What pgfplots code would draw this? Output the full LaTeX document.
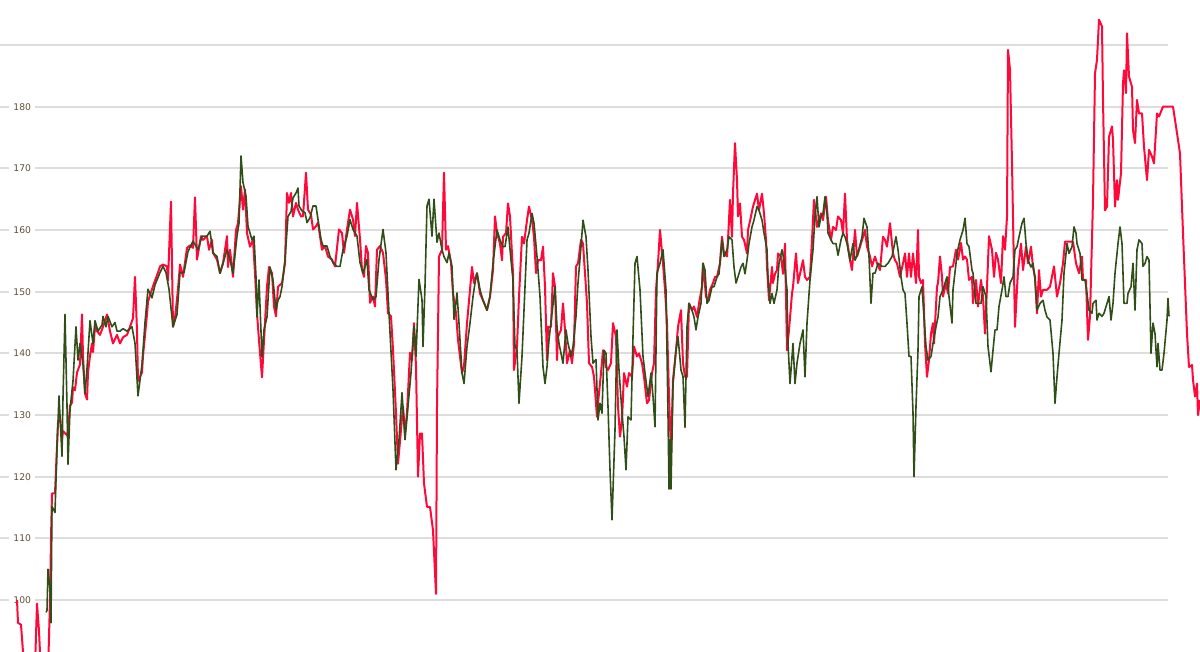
\documentclass[border=0pt]{standalone}
\usepackage{fontspec}
\setmainfont{DejaVu Sans}
\usepackage{pgfplots}
\pgfplotsset{compat=1.18}
\definecolor{redline}{RGB}{255,8,58}
\definecolor{greenline}{RGB}{48,78,24}
\definecolor{gridc}{RGB}{221,221,221}
\definecolor{labc}{RGB}{95,80,55}
\newcommand{\lbl}{\fontsize{4.6}{5}\selectfont}

\begin{document}
\begin{tikzpicture}
\begin{axis}[
  scale only axis,
  width=600pt, height=326pt,
  xmin=0, xmax=1200,
  ymin=91.57, ymax=197.3,
  axis lines=none,
  clip=true,
]
% grid lines stop short of the right edge
\pgfplotsinvokeforeach{100,110,...,190}{
  \draw[gridc,line width=1pt] (axis cs:0,#1) -- (axis cs:1168,#1);
}
\pgfplotsinvokeforeach{100,110,...,180}{
  \node[anchor=west,fill=white,inner xsep=2pt,inner ysep=0.6pt,text=labc,font=\lbl] at (axis cs:9,#1) {#1};
}

% red series
\addplot[redline,line width=1pt,line join=round] coordinates {
(17,100)(18,96.3)(21,96)(23,91.6)(26,84)(34,84)(37,99.4)(39,95)(41,88)(46,84)(48,88)(50,100)(51,110)
(52,117.3)(55,117.3)(58,128.7)(60,130)(62,126)(63,127.4)(67,126.7)(68,127.4)(70,131.5)(72,132)(73,134.5)
(75,134)(77,136.9)(80,138.2)(82,146.3)(83,139.6)(85,133.5)(87,132.5)(88,136.9)(90,139.6)(92,141.6)(93,140.2)
(95,144.3)(97,143.6)(100,143)(103,144.3)(107,146.3)(110,143.6)(113,141.6)(117,143)(120,141.6)(123,142.6)
(127,143)(130,144.3)(133,145.7)(135,152.4)(137,143.6)(138,135.5)(142,136.9)(143,139.6)(147,146.3)(148,148.4)
(152,150.4)(155,151.8)(158,153.1)(160,154.1)(163,154.4)(167,154.1)(168,151.8)(171,164.6)(173,144.3)(175,145.7)
(178,150.4)(180,154.4)(183,152.4)(187,157.1)(190,157.5)(193,157.1)(195,165.3)(197,155.2)(201,159)(203,158.4)
(207,159)(209,156.8)(212,158.4)(213,156.3)(217,155.2)(220,153)(223,154.6)(227,159)(228,154)(230,156.8)
(233,152.4)(236,160)(238,161.1)(241,167.1)(243,163.3)(245,166.6)(247,159.5)(250,157.3)(253,158.4)(255,153)
(257,146.5)(259,142.1)(262,136.1)(264,142.1)(267,150.8)(269,154)(272,153)(274,147.6)(276,146)(278,150.8)
(282,151.4)(285,154.6)(287,166)(289,164.4)(291,166)(293,162.2)(296,164.4)(298,163.3)(301,162.2)(303,162.2)
(306,169.3)(308,163.3)(311,162.5)(313,160.1)(316,160.6)(318,161.2)(322,156.8)(325,157.4)(328,155.7)(332,155.2)
(335,154.1)(339,160.1)(342,159.5)(344,156.3)(347,160.1)(350,163.3)(353,161.7)(355,159)(357,164.4)(360,158.5)
(362,153.6)(364,152.4)(366,157.4)(368,156.3)(370,148.2)(373,149.2)(375,147.6)(377,156.8)(380,157.4)(383,156.3)
(386,152)(388,146.5)(391,146)(393,140.6)(396,130.3)(398,122.1)(401,127.6)(403,131.4)(405,127)(407,130.3)
(410,140.1)(412,138.9)(414,144.9)(416,137.9)(418,120)(420,127)(422,127)(424,118.9)(427,115.1)(430,115.1)
(433,111.3)(436,101)(437,131.4)(439,155.7)(442,156.8)(444,169.3)(446,156.8)(448,157.4)(451,154.7)(453,149.8)
(456,146.5)(458,142.2)(462,136.8)(464,137.9)(467,144.9)(470,150.3)(472,154)(474,151.4)(477,153)(480,149.7)
(483,148.6)(487,147)(490,149.2)(493,153.5)(495,162.2)(497,159.5)(500,157.8)(502,155.1)(503,158.9)(506,159.5)
(508,164.3)(510,162.2)(513,153)(514,137.3)(517,141.1)(519,149.2)(522,158.9)(524,157.8)(527,161.6)(529,163.8)
(532,161.6)(534,158.9)(536,153)(538,155.1)(541,155.1)(543,157.3)(545,150.8)(547,138.9)(548,144.3)(551,144.3)
(553,153)(555,150.8)(557,138.9)(558,142.7)(561,143.8)(563,148.1)(565,143.8)(567,138.4)(570,140.5)(572,138.4)
(574,141.6)(576,154.1)(578,154.6)(581,158.4)(583,157.8)(585,153)(587,148.1)(589,138.4)(592,137.8)(594,136.2)
(597,129.7)(598,131.9)(601,136.8)(603,140.5)(606,137.8)(608,137.3)(611,138.4)(613,144.9)(616,142.7)(618,131.4)
(620,126.5)(622,129.2)(624,136.8)(627,134.6)(629,136.8)(632,136.2)(634,141.1)(637,139.5)(639,140)(642,138.4)
(644,136.2)(647,131.9)(649,132.4)(652,136.8)(654,138.4)(656,150.3)(658,154.6)(660,160)(663,154.6)(665,150.3)
(667,144.9)(669,133)(671,124)(673,135.7)(676,140.5)(678,144.3)(681,147)(683,138.4)(685,136.2)(687,136.2)
(689,148.1)(692,147)(694,147.6)(697,145.9)(699,148.1)(702,150.8)(703,154.6)(706,149.2)(708,148.6)(710,150.3)
(713,151.4)(715,152.4)(717,152.4)(720,154.6)(722,158.9)(724,156.2)(727,155.7)(728,158.4)(730,164.9)(732,158.9)
(733,165.9)(735,174.1)(737,168.1)(738,162.2)(740,164.3)(742,158.9)(744,158.4)(747,156.2)(748,160)(751,162.2)
(753,163.8)(756,165.4)(757,165.9)(759,163.2)(762,165.9)(764,162.7)(766,158.4)(767,154)(769,148.6)(772,154)
(773,151.4)(775,152.9)(777,153.5)(778,156.2)(781,155.7)(783,152.9)(785,157.8)(787,140.5)(789,143.8)(792,149.7)
(793,150.8)(796,156.2)(798,151.4)(800,152.9)(803,155.1)(805,152.4)(807,151.9)(810,152.4)(812,158.4)(814,164.9)
(817,160.5)(818,161.1)(821,162.7)(823,161.6)(826,165.4)(828,161.6)(831,158.4)(833,160.5)(836,160)(838,162.2)
(841,161.6)(843,159.5)(845,165.9)(847,158.4)(850,155.1)(852,153.5)(855,160)(857,155.7)(860,157.3)(863,158.9)
(865,160)(867,157.3)(870,155.7)(872,154.1)(875,155.7)(877,154.6)(880,153.5)(883,158.9)(885,158.4)(887,157.3)
(890,161.1)(893,156.2)(895,155.1)(897,154.6)(900,152.4)(903,154.6)(905,156.2)(907,152.4)(909,156.2)(911,152.4)
(913,156.2)(916,151.4)(918,160)(919,152.4)(921,151.4)(923,151.9)(925,141.6)(927,136.2)(929,138.9)(931,143.2)
(933,144.9)(934,141.6)(937,150.8)(938,151.4)(940,155.7)(942,152.4)(943,149.2)(946,151.4)(948,149.7)(950,154)
(953,154.1)(956,156.8)(958,155.2)(961,157.9)(963,155.2)(965,155.7)(967,155.2)(969,151.9)(972,152.4)(973,148.1)
(976,151.9)(978,147.6)(981,151.9)(983,149.2)(985,143.2)(987,150.8)(989,159)(992,156.8)(994,152.4)(996,156.3)
(998,155.2)(1001,151.4)(1003,159)(1005,156.8)(1007,162.2)(1008,189.2)(1010,186)(1012,170.8)(1015,144.3)
(1018,153.5)(1021,157.8)(1023,153.5)(1026,157.3)(1028,154.6)(1031,157.3)(1033,154)(1035,152.4)(1037,146.5)
(1039,153.5)(1041,149.2)(1043,150.3)(1045,150.3)(1047,150.3)(1050,150.8)(1054,154.1)(1057,149.2)(1060,151.4)
(1063,154.6)(1065,158.1)(1070,158.1)(1073,158.1)(1076,154.6)(1079,153)(1082,155.7)(1083,151.9)(1086,151.9)
(1088,142.2)(1090,146)(1093,164.9)(1095,185.4)(1097,187.6)(1099,194.1)(1102,193)(1103,181.1)(1105,163.2)
(1107,163.8)(1109,175.1)(1112,176.8)(1113,174.6)(1115,163.8)(1117,168.1)(1118,164.9)(1121,169.2)(1123,183.8)
(1124,185.9)(1126,182.2)(1127,191.9)(1129,184.9)(1132,183.2)(1133,176.2)(1135,174.1)(1137,181.1)(1139,178.9)
(1142,178.9)(1144,173.5)(1147,168.1)(1149,173)(1152,171.9)(1154,170.8)(1157,178.9)(1159,178.4)(1163,180)
(1168,180)(1173,180)(1177,175.7)(1180,172.4)(1183,159.5)(1187,143.2)(1189,137.8)(1192,138.1)(1193,135.7)
(1195,133)(1197,135.1)(1198,130)(1200,132.4)
};

% green series
\addplot[greenline,line width=0.8pt,line join=round] coordinates {
(46,98)(47,98.3)(48,105)(50,101.7)(51,96.3)(52,115.2)(55,114.2)(57,124.7)(59,133.1)(62,123.3)(63,132.8)
(65,146.3)(67,131.5)(68,122)(70,130.8)(73,135.5)(76,144.3)(78,138.9)(80,141.6)(83,138.2)(85,133.5)(87,137.5)
(90,145.3)(93,141.6)(95,145.3)(98,143.6)(102,144.6)(103,146)(106,144.3)(108,146)(112,144.3)(115,145)(117,143.6)
(120,143.6)(123,144)(127,143.6)(132,144.3)(135,141.6)(138,133.1)(142,138.2)(145,145)(148,150.4)(152,149)
(155,151.1)(160,153.1)(163,154.1)(166,153.1)(169,150.4)(173,144.3)(177,146.3)(180,153.1)(184,153.1)(188,156.5)
(193,158.2)(198,156.8)(202,159)(207,159)(210,159.8)(213,156.3)(217,155.7)(220,153)(223,154.6)(227,156.8)
(230,155.2)(233,153)(237,159)(239,161.1)(241,172)(243,167.7)(246,165.5)(248,160.6)(252,158.4)(254,159)
(256,152.4)(257,145.9)(259,151.9)(262,139.4)(264,143.8)(267,145.9)(270,154)(273,151.9)(276,147)(278,148.6)
(280,149.2)(282,150.8)(285,155.2)(288,162.2)(291,163)(293,165.2)(296,166)(298,166.8)(299,163.9)(302,163.1)
(305,162.8)(307,161.2)(310,162)(313,163.9)(316,163.9)(318,161.7)(321,158.5)(323,157.4)(327,157.4)(330,155.7)
(333,154.7)(337,154.1)(340,154.1)(343,156.8)(347,159)(350,161.7)(353,160.1)(357,159)(360,154.7)(363,153)
(367,155.2)(369,150.3)(373,148.7)(376,149.2)(379,155.2)(383,160.1)(386,156.3)(389,146.5)(393,134.1)(396,121.1)
(399,126)(402,133.6)(405,126)(408,131.4)(411,136.8)(414,144.4)(416,139.5)(419,152)(422,148.7)(423,141.1)
(425,150.9)(427,163.9)(429,165)(432,159)(434,165)(437,158)(439,159.5)(442,156.8)(444,155.7)(447,154.7)
(449,156.3)(452,154.1)(454,145.5)(457,149.8)(459,144.9)(462,136.8)(464,135.1)(467,141.1)(470,144.9)(473,149.2)
(475,151.4)(477,153)(480,150.3)(483,148.6)(487,147)(490,149.2)(493,154.6)(497,160)(500,158.4)(503,157.3)
(505,157.3)(508,160.5)(511,155.1)(513,151.9)(515,141.1)(517,140.5)(519,131.9)(522,139.5)(524,147)(527,158.4)
(529,159.5)(532,162.7)(534,161.1)(537,155.7)(540,149.2)(543,137.8)(545,135.1)(547,137.8)(549,142.2)(552,146.5)
(555,150.8)(557,144.3)(559,141.6)(563,138.4)(566,143.8)(568,141.6)(571,139.5)(573,141.1)(576,146)(578,151.4)
(581,157.3)(583,161.6)(586,158.9)(588,153.5)(591,142.7)(593,138.4)(596,139)(598,129.2)(600,131.9)(602,130.3)
(604,140.5)(606,140)(608,131.4)(610,121.1)(612,113)(615,127.6)(617,143.8)(619,137.3)(622,130.3)(624,126.5)
(626,121.1)(628,129.7)(631,129.2)(633,142.7)(635,154.6)(637,155.7)(640,150.3)(643,139.5)(645,136.8)(648,133)
(651,136.8)(653,133)(655,128.1)(657,153)(660,154.6)(663,156.8)(666,150.3)(668,130)(669,118)(670,126)(671,118)
(673,135)(676,140.5)(678,142.7)(681,137.3)(683,136.2)(685,128)(687,144.3)(689,148.1)(692,147)(694,145.9)
(696,143.8)(698,145.9)(701,148.1)(703,154.6)(705,153.5)(707,148.1)(709,148.6)(712,150.8)(714,150.8)(717,152.4)
(719,152.9)(722,158.4)(724,155.7)(727,156.8)(729,158.9)(732,158.4)(734,154)(736,151.4)(738,152.4)(741,154)
(743,154.6)(745,152.9)(747,155.1)(749,157.8)(752,160.5)(754,161.6)(757,163.8)(759,163.2)(762,161.6)(764,159.5)
(767,156.8)(768,152.4)(770,148.1)(772,149.7)(774,148.1)(777,150.3)(779,154.6)(782,156.8)(784,155.1)(787,150.3)
(788,141.6)(790,135.1)(793,141.6)(795,135.1)(797,138.4)(800,141.6)(803,143.8)(805,136.2)(807,144.9)(810,151.9)
(813,156.8)(815,162.2)(817,165.4)(819,160.5)(821,162.2)(823,162.7)(825,165.4)(827,162.7)(828,159.5)(831,158.4)
(833,157.8)(836,157.8)(838,155.9)(841,158.4)(843,159.5)(845,158.9)(847,157.8)(850,155.1)(853,157.8)(855,155.1)
(858,156.2)(862,158.9)(864,161.9)(867,160.5)(869,155.7)(871,148.1)(873,153)(875,153)(878,154.6)(882,154.1)
(885,154.1)(888,154.6)(892,155.7)(894,157.3)(896,158.9)(898,156.8)(901,152.4)(903,150.3)(905,149.7)(907,144.9)
(909,139.5)(911,139.5)(913,130.3)(914,120)(916,131.4)(918,140.5)(919,149.2)(922,150.8)(924,145.9)(926,141.1)
(928,138.9)(931,139.5)(933,141.6)(936,144.3)(938,145.9)(940,149.2)(943,150.3)(945,151.4)(947,152.4)(949,149.2)
(952,144.9)(953,150.3)(956,154.6)(957,156.2)(960,158.4)(963,160)(965,161.9)(967,157.8)(969,157.3)(972,153.5)
(973,153)(976,148.1)(978,148.1)(981,148.1)(983,150.8)(986,149.2)(988,141.1)(991,137)(993,140.5)(995,143.8)
(997,143.8)(999,147.6)(1002,150.3)(1004,152.4)(1006,149.2)(1008,149.2)(1010,151.4)(1013,152.4)(1015,156.8)
(1017,157.3)(1019,158.9)(1022,161.1)(1024,161.9)(1026,157.8)(1028,155.1)(1031,154)(1033,154.6)(1035,151.9)
(1037,147)(1040,148.1)(1043,148.6)(1045,147)(1047,145.9)(1050,145.4)(1053,140)(1055,131.9)(1057,136.2)(1059,140)
(1062,145.4)(1064,153)(1067,157.8)(1069,156.2)(1072,157.3)(1074,160.5)(1076,159.5)(1077,157.8)(1080,156.2)
(1082,151.9)(1085,151.9)(1087,149.7)(1089,147)(1092,146.5)(1093,148.1)(1096,148.6)(1097,145.4)(1099,146.5)
(1102,146)(1104,146.5)(1107,148.1)(1109,149.2)(1111,145.4)(1113,148.1)(1115,153)(1118,157.8)(1120,160.5)
(1122,157.8)(1124,148.1)(1127,148.1)(1128,149.7)(1131,150.8)(1133,154.6)(1135,147)(1137,156.8)(1139,158.4)
(1142,157.8)(1143,154.1)(1145,154.6)(1147,155.7)(1149,155.1)(1151,140)(1153,144.9)(1155,143.2)(1157,137.8)
(1158,141.6)(1160,137.3)(1162,137.3)(1164,140)(1167,145.4)(1168,148.9)(1169,146)
};
\end{axis}
\pgfresetboundingbox
\path (current axis.south west) rectangle (current axis.north east);
\end{tikzpicture}
\end{document}
